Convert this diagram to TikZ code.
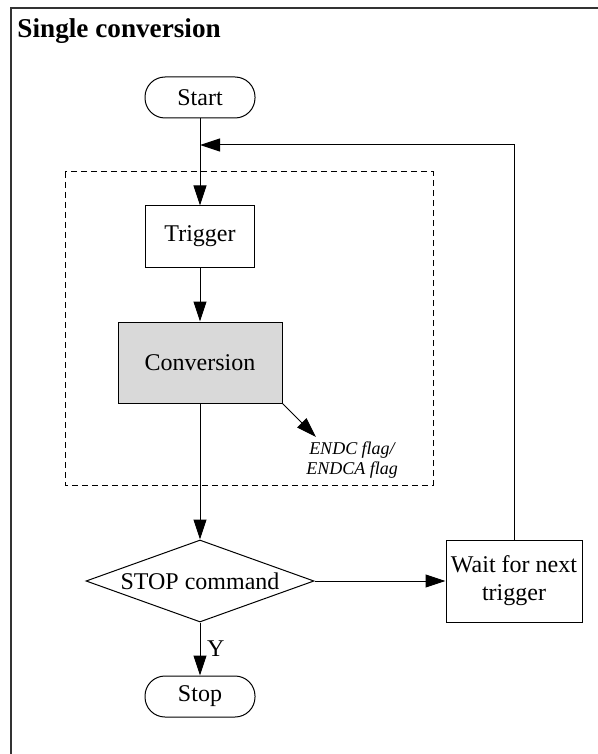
\documentclass[tikz,border=0pt]{standalone}
\usepackage{fontspec}
\setmainfont{Liberation Serif}
\usetikzlibrary{shapes.geometric,arrows.meta}

\definecolor{convgray}{HTML}{D9D9D9}

\tikzset{
	box/.style={draw, inner sep=0pt, align=center, font=\fontsize{12}{14}\selectfont},
	term/.style={box, rounded corners=10pt, minimum width=55pt, minimum height=20.5pt},
	proc/.style={box, minimum width=54.5pt, minimum height=30.5pt},
	arr/.style={-{Triangle[length=10pt,width=6.5pt]}},
}

\begin{document}
\begin{tikzpicture}[x=0.5pt,y=-0.5pt,line width=0.5pt]
			\useasboundingbox (0,0) rectangle (598,754);
			% outer frame and heading
			\draw[line width=1pt,black!80] (11,754) -- (11,8) -- (598,8);
			\node[anchor=base west,inner sep=0pt,font=\bfseries\fontsize{13.6}{16}\selectfont] (title) at (17,38) {Single conversion};
			% dashed group round trigger and conversion
			\draw[dash pattern=on 3pt off 2pt] (65,172) rectangle (433,485);
			\node[term] (start) at (200,97.5) {Start};
			\node[proc] (trig) at (200,236.5) {Trigger};
			\node[proc,fill=convgray,minimum width=82pt,minimum height=40.5pt] (conv) at (200,362.5) {Conversion};
			\node[box,diamond,aspect=2.78,minimum width=114pt,minimum height=41pt] (stop) at (200,581) {STOP command};
			\node[proc,minimum width=68pt,minimum height=41pt] (wait) at (514,581) {Wait for next\\trigger};
			\node[term] (end) at (200,696.5) {Stop};
			\node[align=center,font=\itshape\fontsize{9}{10}\selectfont] (flag) at (352,460) {ENDC flag/\\ENDCA flag};
			\coordinate (flagtip) at (316,437);
			\coordinate (join) at (200,145);
			% connectors
			\draw[arr] (start) -- (trig);
			\draw[arr] (trig) -- (conv);
			\draw[arr] (conv.south east) -- (flagtip);
			\draw[arr] (conv) -- (stop);
			\draw[arr] (stop) -- (wait);
			\draw[arr] (stop) -- node[right,font=\fontsize{12}{14}\selectfont] {Y} (end);
			\draw[arr] (wait.north) |- (join);
		\end{tikzpicture}
\end{document}
